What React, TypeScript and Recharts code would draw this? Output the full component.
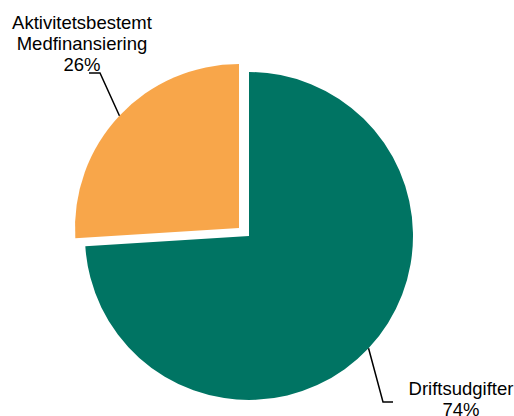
import { PieChart, Pie, Cell } from "recharts";

const NAMES = ["Driftsudgifter", "Aktivitetsbestemt Medfinansiering"];
const VALUES = [74, 26];
const COLORS = ["#007463", "#F8A64A"];

const data = NAMES.map((name, i) => ({ name, value: VALUES[i] }));

const RAD = Math.PI / 180;
const R = 164;

// leader line elbow / text placement relative to the slice centre
const LABEL_POS = [
  { elbow: [134, 166], end: 144, text: [212, 159], lines: 1 },
  { elbow: [-139, -155], end: -150, text: [-157, -199], lines: 2 },
];

function makeLabel(show: number) {
  return (props: any) => {
    const { cx, cy, midAngle, index, percent, name } = props;
    if (index !== show) return null;
    const pos = LABEL_POS[index];
    const sx = cx + R * Math.cos(-midAngle * RAD);
    const sy = cy + R * Math.sin(-midAngle * RAD);
    const ex = cx + pos.elbow[0];
    const ey = cy + pos.elbow[1];
    const words = pos.lines === 2 ? name.split(" ") : [name];
    const rows = [...words, `${Math.round(percent * 100)}%`];
    return (
      <g>
        <polyline
          points={`${sx},${sy} ${ex},${ey} ${cx + pos.end},${ey}`}
          fill="none"
          stroke="#000"
          strokeWidth={1.5}
        />
        <text
          x={cx + pos.text[0]}
          y={cy + pos.text[1]}
          textAnchor="middle"
          fontFamily="Liberation Sans, Arial, sans-serif"
          fontSize={18.5}
          fill="#000"
        >
          {rows.map((r, i) => (
            <tspan key={i} x={cx + pos.text[0]} dy={i === 0 ? 0 : 21}>
              {r}
            </tspan>
          ))}
        </text>
      </g>
    );
  };
}

export default function App() {
  return (
    <>
      <style>{"html,body{overflow:hidden;margin:0}"}</style>
      <div style={{ marginLeft: 8, marginTop: 8, width: 506, height: 408 }}>
        <PieChart width={506} height={408} margin={{ top: 0, right: 0, bottom: 0, left: 0 }}>
          <Pie
            data={data}
            dataKey="value"
            nameKey="name"
            cx={241}
            cy={228}
            outerRadius={R}
            startAngle={90}
            endAngle={-270}
            stroke="none"
            labelLine={false}
            label={makeLabel(0)}
            isAnimationActive={false}
          >
            {data.map((d, i) => (
              <Cell key={d.name} fill={i === 0 ? COLORS[0] : "transparent"} />
            ))}
          </Pie>
          <Pie
            data={data}
            dataKey="value"
            nameKey="name"
            cx={231}
            cy={220}
            outerRadius={R}
            startAngle={90}
            endAngle={-270}
            stroke="none"
            labelLine={false}
            label={makeLabel(1)}
            isAnimationActive={false}
          >
            {data.map((d, i) => (
              <Cell key={d.name} fill={i === 1 ? COLORS[1] : "transparent"} />
            ))}
          </Pie>
        </PieChart>
      </div>
    </>
  );
}
